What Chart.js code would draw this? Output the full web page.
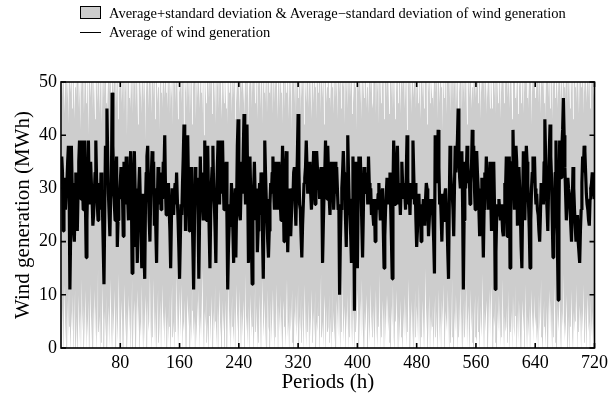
<!DOCTYPE html>
<html>
<head>
<meta charset="utf-8">
<script src="https://cdn.jsdelivr.net/npm/chart.js@4.4.0/dist/chart.umd.min.js"></script>
<style>
  body { margin: 0; background: #fff; }
  #wrap { position: relative; width: 612px; height: 396px; }
  #legend { position: absolute; left: 0; top: 0; width: 612px; height: 45px;
    font-family: 'Liberation Serif', 'Times New Roman', serif; font-size: 14.5px; color: #000; line-height: 17px; }
  .lab { position: absolute; left: 109px; white-space: nowrap; }
  .box { position: absolute; left: 80px; top: 6px; width: 21px; height: 13px;
    background: #cdcdcd; border: 1px solid #000; box-sizing: border-box; }
  .ln { position: absolute; left: 80px; top: 32px; width: 21px; height: 0; border-top: 1.5px solid #000; }
</style>
</head>
<body>
<div id="wrap">
  <canvas id="windChart" width="612" height="396"></canvas>
  <div id="legend">
    <div class="box"></div>
    <div class="lab" style="top:5px">Average+standard deviation &amp; Average&minus;standard deviation of wind generation</div>
    <div class="ln"></div>
    <div class="lab" style="top:24px">Average of wind generation</div>
  </div>
</div>
<script>
// Tick values
const xTickValues = [80, 160, 240, 320, 400, 480, 560, 640, 720];
const yTickValues = [0, 10, 20, 30, 40, 50];

// Average wind generation per hour (MWh), periods 1..720
const meanWind = [
  36,33,22,27,32,26,29,31,35,38, 30,11,21,38,31,26,22,20,27,33,
  26,22,29,35,39,30,28,39,31,26, 33,39,27,17,24,31,39,30,27,35,
  31,28,23,25,29,33,39,32,27,24, 28,31,26,33,29,26,19,12,25,38,
  33,45,36,29,25,21,28,30,48,38, 32,27,24,31,36,19,24,30,28,31,
  34,33,29,21,35,30,27,36,31,28, 24,29,33,37,29,14,26,31,37,30,
  19,24,16,27,30,34,28,21,15,25, 29,18,13,27,33,36,38,30,24,20,
  28,33,37,29,35,23,30,22,16,27, 34,27,30,33,26,32,28,35,33,40,
  30,25,29,27,31,26,22,15,24,30, 27,25,29,31,27,33,28,24,19,13,
  20,27,25,31,36,42,33,22,30,35, 40,31,22,27,30,34,26,19,11,22,
  34,27,30,32,25,13,24,36,29,33, 27,24,31,39,30,24,30,38,29,22,
  15,25,31,34,38,30,27,22,16,28, 34,39,31,27,39,33,29,39,31,26,
  29,33,35,24,11,19,23,27,25,31, 27,22,16,25,30,17,27,38,43,33,
  25,24,30,35,29,37,44,33,27,36, 42,30,16,26,36,29,20,12,24,30,
  35,29,24,30,18,22,27,31,25,33, 30,21,13,27,39,33,28,24,20,17,
  22,27,31,29,33,36,30,26,29,35, 31,26,29,35,31,27,24,31,38,29,
  20,29,33,37,27,18,24,27,30,21, 25,30,28,33,34,27,23,30,36,44,
  34,27,26,21,17,23,27,31,32,34, 39,34,29,31,35,33,29,26,30,33,
  37,31,27,32,37,34,30,31,28,33, 34,30,16,23,29,33,39,31,28,38,
  33,28,25,30,35,31,35,26,30,35, 29,34,30,26,27,10,20,26,30,33,
  37,33,30,24,19,29,40,33,27,25, 21,16,28,36,30,7,35,27,22,15,
  28,36,31,36,30,23,17,25,34,30, 29,33,32,27,36,31,27,30,25,28,
  25,23,28,20,24,28,26,29,31,27, 24,27,29,30,22,15,21,26,29,32,
  29,27,31,33,26,20,13,30,39,32, 27,30,34,38,31,27,29,25,30,35,
  31,28,31,29,26,33,40,32,27,29, 25,31,28,30,39,33,27,31,24,19,
  22,26,29,24,27,20,23,25,28,26, 23,28,31,30,27,21,24,28,26,25,
  28,24,20,14,40,33,31,35,41,34, 27,29,25,20,26,29,24,29,30,26,
  24,18,13,27,38,33,30,29,26,21, 30,38,33,36,39,45,37,32,30,34,
  37,27,11,24,35,30,33,38,35,31, 33,27,31,34,41,36,38,30,26,32,
  37,33,30,26,21,25,28,32,24,17, 26,33,30,36,31,29,26,30,35,28,
  22,27,31,35,27,11,18,25,27,25, 28,26,24,27,25,22,21,26,31,30,
  36,21,28,30,36,15,25,32,35,41, 33,26,31,38,35,23,28,34,30,25,
  19,15,27,37,30,24,31,38,35,31, 27,22,15,24,30,33,36,31,36,30,
  27,29,26,25,22,20,25,31,28,30, 27,35,43,36,29,26,22,30,37,42,
  36,32,24,17,21,26,33,39,30,19, 9,25,39,35,32,38,41,47,40,34,
  29,24,28,32,30,29,26,23,20,27, 34,30,26,23,20,22,25,20,18,16,
  22,26,31,36,33,38,37,33,29,27, 26,24,23,28,30,31,33,32,29,28
];

// Average + standard deviation (MWh)
const upperWind = [
  52,47,55,49,44,53,58,46,51,42,56,50,48,54,45,57,52,43,49,55,
  47,53,59,45,50,41,54,48,56,52,44,51,57,46,53,49,40,55,50,47,
  54,58,45,52,48,43,56,51,46,53,57,44,50,55,42,49,54,47,52,58,
  46,51,44,57,53,48,55,41,50,54,47,52,59,45,49,56,43,51,48,55,
  53,46,50,57,44,52,48,55,40,51,56,47,53,45,50,58,44,52,49,54,
  45,55,49,42,53,57,47,51,44,56,50,46,54,39,52,48,57,45,51,53,
  50,44,56,52,47,58,43,51,55,46,49,53,41,57,48,52,45,55,50,47,
  56,48,53,45,51,59,44,50,47,54,42,55,49,52,46,57,50,43,53,48,
  49,54,46,52,57,41,55,48,51,45,58,47,53,44,50,56,42,54,49,52,
  55,43,51,47,56,50,45,53,48,57,44,52,40,55,49,46,54,51,47,58,
  47,52,58,44,50,55,46,53,42,51,49,56,45,52,57,48,43,54,50,46,
  53,49,45,56,42,52,48,57,51,44,55,47,50,58,43,53,46,51,56,49,
  44,57,51,48,54,46,50,43,56,52,47,55,41,51,49,58,45,53,48,54,
  52,46,55,50,43,57,49,53,45,51,56,42,54,48,52,46,59,44,50,55,
  48,53,47,56,51,44,58,46,52,49,55,43,50,57,45,53,48,51,42,56,
  57,45,52,48,54,50,43,55,47,53,41,56,49,52,46,58,44,51,54,47,
  50,56,44,53,47,51,57,42,55,49,46,52,58,45,50,54,48,43,56,51,
  46,52,49,55,43,54,48,51,57,44,53,50,47,56,42,52,55,46,49,53,
  54,47,51,45,58,49,53,44,50,56,47,52,43,55,51,48,57,45,53,50,
  49,55,42,52,48,56,45,51,54,47,50,58,44,53,46,52,49,56,41,54,
  52,48,57,46,51,43,55,50,47,53,59,45,49,54,44,51,56,48,52,46,
  45,53,50,56,44,52,48,55,42,57,51,46,53,49,55,43,50,54,47,58,
  56,49,44,51,57,47,53,45,52,50,43,56,48,54,46,51,58,44,50,53,
  48,54,52,45,50,55,41,53,49,57,46,52,44,55,50,47,53,56,45,51,
  53,46,55,49,43,52,57,47,51,45,54,50,58,42,52,48,55,46,53,49,
  47,51,45,56,52,48,54,43,57,50,46,53,49,55,41,52,47,56,51,44,
  55,50,53,47,58,44,51,56,46,52,49,54,45,50,57,43,53,48,52,55,
  44,52,48,55,46,53,50,42,56,51,47,54,52,45,49,58,46,53,50,47,
  51,57,46,50,54,43,52,48,55,49,53,46,56,44,51,47,54,50,45,57,
  49,45,53,52,47,56,44,55,50,46,58,51,43,53,48,55,52,46,54,49,
  56,52,47,54,45,51,57,49,43,53,50,55,47,52,46,56,44,51,49,53,
  46,53,50,44,56,48,52,55,47,51,45,57,50,54,42,52,48,55,51,47,
  53,48,55,51,46,57,44,50,54,49,52,46,55,43,53,50,56,47,52,45,
  50,55,43,52,49,54,47,56,51,45,53,48,57,46,50,52,44,55,49,53,
  47,52,56,46,53,50,45,54,48,57,43,51,55,49,52,46,58,50,44,53,
  54,49,51,57,44,52,48,55,46,50,53,47,56,45,52,49,54,51,47,50
];

// Average - standard deviation (MWh)
const lowerWind = [
  3,8,-2,5,12,1,6,-4,9,2,14,4,-1,7,3,10,-3,5,11,0,
  6,-3,4,10,1,7,-2,13,3,8,0,5,11,-1,6,2,9,-4,4,12,
  1,7,-3,5,11,2,8,-1,4,15,3,6,-2,9,1,12,5,-3,7,2,
  10,-2,4,8,0,6,13,3,-1,7,2,11,5,-4,8,1,6,14,2,-2,
  5,9,1,-3,6,12,2,7,-1,4,10,3,8,-2,5,13,0,6,9,1,
  -1,6,11,3,8,-4,5,2,12,4,-2,7,1,10,6,-3,9,3,5,14,
  4,-1,8,2,13,5,0,7,-3,6,11,1,4,9,-2,5,12,3,7,0,
  8,3,-2,6,1,10,4,-3,7,12,2,5,-1,9,3,14,6,0,4,11,
  2,7,12,-1,5,3,9,1,-4,6,10,4,8,-2,5,1,13,7,2,6,
  -3,5,1,9,4,11,-1,6,2,8,15,3,-2,7,4,10,1,5,-3,8,
  6,1,10,4,-2,7,3,12,5,0,8,-4,6,11,2,5,-1,9,3,7,
  0,9,3,-3,6,13,2,7,-1,5,10,4,1,8,-2,6,12,3,7,1,
  11,4,-2,7,2,9,5,-1,14,3,6,0,8,-3,5,10,2,7,4,-2,
  5,12,3,8,-1,6,1,10,4,-3,7,13,2,5,9,0,6,-2,11,4,
  3,-2,9,1,6,11,4,-1,7,2,12,5,-3,8,3,10,1,6,-4,7,
  9,4,0,7,13,2,5,-2,8,3,6,11,1,-3,7,4,10,2,5,12,
  -2,6,3,10,1,8,-1,5,12,4,0,7,3,9,-4,6,2,11,5,1,
  7,2,11,-1,5,3,9,6,-3,8,14,2,5,0,7,10,-2,4,8,3,
  4,10,1,6,-2,12,3,7,1,5,-3,9,6,2,11,4,-1,7,3,13,
  1,5,8,-3,7,3,10,-1,6,2,12,4,0,8,5,-2,9,3,6,11,
  6,-1,4,9,2,13,5,1,-4,7,3,10,6,-2,8,1,5,12,3,7,
  2,8,-2,5,11,3,0,7,4,14,-1,6,2,9,5,-3,8,1,10,4,
  10,3,6,1,-2,8,4,12,2,-1,7,5,11,3,-3,6,1,9,4,2,
  -1,7,2,10,5,0,8,3,13,6,-2,4,9,1,7,-4,5,11,2,8,
  5,1,12,3,-3,7,2,9,4,-1,6,15,3,8,0,5,10,-2,6,3,
  8,4,-1,6,10,2,7,-3,5,11,1,6,-2,9,4,12,3,0,7,5,
  3,11,5,-2,8,1,6,13,2,-4,7,3,10,5,-1,8,2,6,12,0,
  7,-3,4,9,2,6,12,0,5,8,-2,4,11,3,7,1,-3,6,10,2,
  1,6,10,3,-1,8,2,5,14,4,-2,7,3,9,6,-1,5,11,2,8,
  12,2,-2,6,4,9,1,-3,7,3,10,5,0,8,2,13,4,-1,6,3,
  4,8,1,11,-2,5,3,7,-1,10,4,2,12,6,-3,7,1,9,5,0,
  -2,5,9,3,7,0,12,4,-1,6,2,8,-3,5,11,3,7,1,10,4,
  6,1,4,-2,10,3,7,13,2,-1,5,9,4,0,8,2,-3,6,11,3,
  9,3,-1,7,2,12,5,1,-4,8,3,6,10,2,-2,7,4,14,1,5,
  2,10,5,0,6,-3,8,4,11,2,-1,7,3,9,5,12,-2,6,3,8,
  5,-1,7,3,12,4,1,8,-2,6,10,3,5,-3,9,2,7,1,4,6
];

function toPoints(values) {
  return values.map((v, i) => ({ x: i + 1, y: v }));
}

const serif = "'Liberation Serif', 'Times New Roman', serif";

// box round the plot plus inward tick marks on all four sides
const frameTicks = {
  id: 'frameTicks',
  afterDatasetsDraw(chart) {
    const { ctx, chartArea: a, scales: { x, y } } = chart;
    ctx.save();
    ctx.strokeStyle = '#000';
    ctx.lineWidth = 1.6;
    ctx.strokeRect(a.left, a.top, a.right - a.left, a.bottom - a.top);
    ctx.beginPath();
    xTickValues.forEach(v => {
      const px = x.getPixelForValue(v);
      ctx.moveTo(px, a.bottom); ctx.lineTo(px, a.bottom - 5);
      ctx.moveTo(px, a.top); ctx.lineTo(px, a.top + 5);
    });
    yTickValues.forEach(v => {
      const py = y.getPixelForValue(v);
      ctx.moveTo(a.left, py); ctx.lineTo(a.left + 5, py);
      ctx.moveTo(a.right, py); ctx.lineTo(a.right - 5, py);
    });
    ctx.stroke();
    ctx.restore();
  }
};

new Chart(document.getElementById('windChart'), {
  type: 'line',
  data: {
    datasets: [
      {
        label: 'Average of wind generation',
        data: toPoints(meanWind),
        borderColor: '#000',
        borderWidth: 3.2,
        borderJoinStyle: 'bevel',
        pointRadius: 0,
        fill: false,
        order: 0
      },
      {
        label: 'Average+standard deviation',
        data: toPoints(upperWind),
        borderColor: 'rgba(0,0,0,0)',
        backgroundColor: '#cdcdcd',
        pointRadius: 0,
        fill: '+1',
        order: 1
      },
      {
        label: 'Average−standard deviation',
        data: toPoints(lowerWind),
        borderColor: 'rgba(0,0,0,0)',
        pointRadius: 0,
        fill: false,
        order: 2
      }
    ]
  },
  options: {
    responsive: false,
    animation: false,
    events: [],
    layout: { padding: { top: 82, right: 15, left: 0, bottom: 0 } },
    plugins: { legend: { display: false }, tooltip: { enabled: false } },
    scales: {
      x: {
        type: 'linear',
        min: 0,
        max: 720,
        afterBuildTicks: s => { s.ticks = xTickValues.map(v => ({ value: v })); },
        afterFit: s => { s.height = 48; },
        grid: { display: false, drawTicks: false },
        border: { display: false },
        ticks: { color: '#000', font: { family: serif, size: 18 }, padding: 4, maxRotation: 0, autoSkip: false },
        title: { display: true, text: 'Periods (h)', color: '#000', font: { family: serif, size: 21 }, padding: { top: 0, bottom: 1 } }
      },
      y: {
        min: 0,
        max: 50,
        afterBuildTicks: s => { s.ticks = yTickValues.map(v => ({ value: v })); },
        afterFit: s => { s.width = 61; },
        grid: { display: false, drawTicks: false },
        border: { display: false },
        ticks: { color: '#000', font: { family: serif, size: 18 }, padding: 4 },
        title: { display: true, text: 'Wind generation (MWh)', color: '#000', font: { family: serif, size: 21 }, padding: { top: 11, bottom: 0 } }
      }
    }
  },
  plugins: [frameTicks]
});
</script>
</body>
</html>
